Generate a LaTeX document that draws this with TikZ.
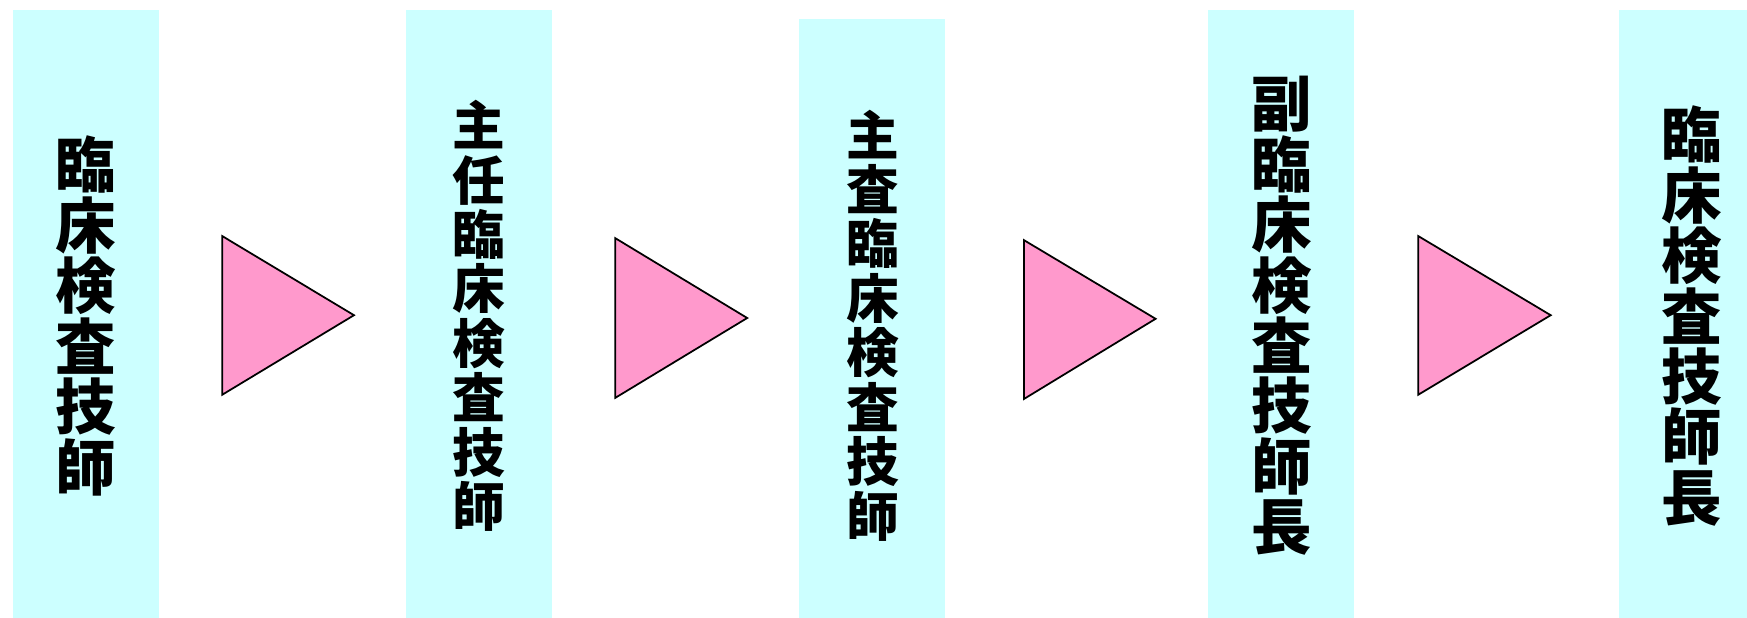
\documentclass[tikz,border=0pt]{standalone}
\usepackage{fontspec}
\newfontfamily\cjk{Noto Sans CJK JP}
\usetikzlibrary{positioning}
\definecolor{gradec}{HTML}{CCFFFF}
\definecolor{stepc}{HTML}{FF99CC}

\begin{document}
\setlength{\lineskiplimit}{-100pt}
\begin{tikzpicture}[scale=1.0,
        gradebox/.style={anchor=north, fill=gradec, shape=rectangle, inner sep=0pt, minimum width=1.46cm, minimum height=6.4cm},
        gradetext/.style={font=\cjk\bfseries\fontsize{17.2}{17.2}\selectfont, align=center, inner sep=0pt},
        smalltext/.style={gradetext, font=\cjk\bfseries\fontsize{15}{15.5}\selectfont},
        steptri/.style={draw=black, fill=stepc, line width=0.5pt, line join=miter}]
        \useasboundingbox (0cm,0cm) rectangle (17.47cm,6.17cm);

        \node[gradebox] (grade0) at (0.859cm,6.08cm) {};
        \node[gradebox] (grade1) at (4.793cm,6.08cm) {};
        \node[gradebox] (grade2) at (8.724cm,5.985cm) {};
        \node[gradebox] (grade3) at (12.814cm,6.08cm) {};
        \node[gradebox] (grade4) at (16.918cm,6.08cm) {};

        \node[gradetext] (label0) at ([yshift=-3.07cm]grade0.north) {臨\\床\\検\\査\\技\\師};
        \node[smalltext] (label1) at ([yshift=-3.07cm]grade1.north) {主\\任\\臨\\床\\検\\査\\技\\師};
        \node[smalltext] (label2) at ([yshift=-3.07cm]grade2.north) {主\\査\\臨\\床\\検\\査\\技\\師};
        \node[gradetext] (label3) at ([yshift=-3.07cm]grade3.north) {副\\臨\\床\\検\\査\\技\\師\\長};
        \node[gradetext] (label4) at ([yshift=-3.07cm]grade4.north) {臨\\床\\検\\査\\技\\師\\長};

        \filldraw[steptri] (2.223cm,3.809cm) -- (3.54cm,3.018cm) -- (2.223cm,2.223cm) -- cycle;
        \filldraw[steptri] (6.152cm,3.789cm) -- (7.472cm,2.99cm) -- (6.152cm,2.191cm) -- cycle;
        \filldraw[steptri] (10.239cm,3.769cm) -- (11.556cm,2.982cm) -- (10.239cm,2.18cm) -- cycle;
        \filldraw[steptri] (14.183cm,3.809cm) -- (15.507cm,3.018cm) -- (14.183cm,2.223cm) -- cycle;

\end{tikzpicture}
\end{document}
